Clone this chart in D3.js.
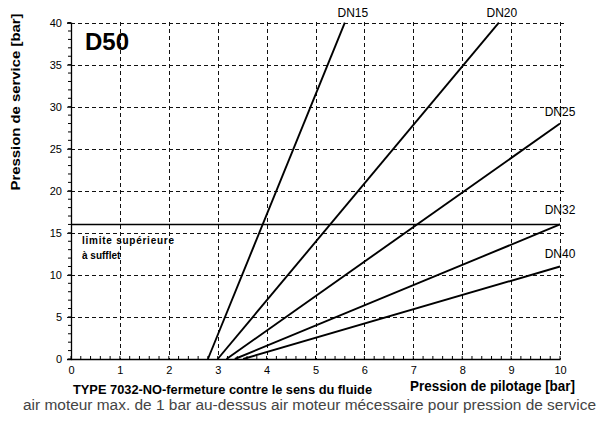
<!DOCTYPE html>
<html><head><meta charset="utf-8">
<script src="https://cdn.jsdelivr.net/npm/d3@7"></script>
<style>
body{margin:0;background:#fff;}
svg{display:block;font-family:"Liberation Sans",Arial,Helvetica,sans-serif;}
</style></head>
<body><svg id="c" width="606" height="421"></svg>
<script>
const xTicks = [0,1,2,3,4,5,6,7,8,9,10];
const yTicks = [0,5,10,15,20,25,30,35,40];
const seriesNames = ["DN15","DN20","DN25","DN32","DN40"];
const seriesStart = [[2.8,0],[3.0,0],[3.18,0],[3.35,0],[3.52,0]];
const seriesEnd = [[5.6,40],[8.75,40],[10,28],[10,16],[10,11]];
const labelPos = [[5.6,40],[8.75,40],[10,28],[10,16],[10,11]];
const limitValue = 16;

const svg = d3.select("#c");
const L=71, T=22.6, W=489, H=336.4;
const x = d3.scaleLinear().domain([0,10]).range([L,L+W]);
const y = d3.scaleLinear().domain([0,40]).range([T+H,T]);
const r = v => Math.round(v)+0.5;

// grid
const grid = svg.append("g").attr("stroke","#111").attr("stroke-width",1).attr("stroke-dasharray","4,3").attr("shape-rendering","crispEdges");
xTicks.filter(d=>d>0).forEach(d=>{
  grid.append("line").attr("x1",r(x(d))).attr("x2",r(x(d))).attr("y1",y(40)-1).attr("y2",y(0));
});
yTicks.filter(d=>d>0).forEach(d=>{
  grid.append("line").attr("x1",x(0)).attr("x2",x(10)+4).attr("y1",r(y(d))).attr("y2",r(y(d)));
});

// axes
const ax = svg.append("g").attr("transform",`translate(0,${y(0)})`)
  .call(d3.axisBottom(x).tickValues(xTicks).tickSize(0).tickPadding(7).tickFormat(d3.format("d")));
ax.select(".domain").attr("stroke","#000").attr("stroke-width",1.3);
ax.selectAll("text").attr("font-size","11px").attr("fill","#000").attr("font-family","Liberation Sans, Arial, sans-serif");
const xminor = d3.range(0,10.01,0.2);
svg.append("g").selectAll("line").data(xminor).join("line")
  .attr("x1",d=>x(d)).attr("x2",d=>x(d)).attr("y1",y(0)-3).attr("y2",y(0)+1).attr("stroke","#000");

const ay = svg.append("g").attr("transform",`translate(${x(0)},0)`)
  .call(d3.axisLeft(y).tickValues(yTicks).tickSize(4).tickPadding(5));
ay.select(".domain").attr("stroke","#000").attr("stroke-width",1.3);
ay.selectAll(".tick line").attr("stroke","#000");
ay.selectAll("text").attr("font-size","11px").attr("fill","#000").attr("font-family","Liberation Sans, Arial, sans-serif");
const yminor = d3.range(0,40.01,1);
svg.append("g").selectAll("line").data(yminor).join("line")
  .attr("x1",x(0)-3).attr("x2",x(0)).attr("y1",d=>y(d)).attr("y2",d=>y(d)).attr("stroke","#000");

// limit line
svg.append("line").attr("x1",x(0)).attr("x2",x(10)).attr("y1",y(limitValue)).attr("y2",y(limitValue))
  .attr("stroke","#000").attr("stroke-width",1.5);

// series lines
const line = d3.line().x(d=>x(d[0])).y(d=>y(d[1]));
seriesNames.forEach((n,i)=>{
  svg.append("path").attr("d",line([seriesStart[i],seriesEnd[i]]))
    .attr("stroke","#000").attr("stroke-width",1.9).attr("fill","none");
});
// labels
const lblOff = [[8,-5.5],[3,-5.5],[0,-8],[0,-10],[0,-8]];
seriesNames.forEach((n,i)=>{
  svg.append("text").attr("x",x(labelPos[i][0])+lblOff[i][0]).attr("y",y(labelPos[i][1])+lblOff[i][1])
    .attr("text-anchor","middle").attr("font-size","12px").text(n);
});

svg.append("text").attr("x",85).attr("y",50).attr("font-size","24px").attr("font-weight","bold").text("D50");
svg.append("text").attr("x",82).attr("y",244).attr("font-size","10px").attr("font-weight","bold")
  .attr("textLength",92).attr("lengthAdjust","spacing").text("limite supérieure");
svg.append("text").attr("x",82).attr("y",259).attr("font-size","10px").attr("font-weight","bold").text("à sufflet");

svg.append("text").attr("transform",`translate(20,102) rotate(-90)`).attr("text-anchor","middle")
  .attr("font-size","13px").attr("font-weight","bold").attr("textLength",177).attr("lengthAdjust","spacingAndGlyphs")
  .text("Pression de service [bar]");
svg.append("text").attr("x",73).attr("y",394).attr("font-size","12px").attr("font-weight","bold")
  .attr("textLength",299).attr("lengthAdjust","spacingAndGlyphs")
  .text("TYPE 7032-NO-fermeture  contre le sens du fluide");
svg.append("text").attr("x",575).attr("y",391).attr("text-anchor","end").attr("font-size","14px").attr("font-weight","bold")
  .attr("textLength",165).attr("lengthAdjust","spacingAndGlyphs")
  .text("Pression de pilotage [bar]");
svg.append("text").attr("x",23).attr("y",410).attr("font-size","14px").attr("fill","#444")
  .attr("textLength",573).attr("lengthAdjust","spacingAndGlyphs")
  .text("air moteur max. de 1 bar au-dessus air moteur mécessaire pour pression de service");
</script></body></html>
